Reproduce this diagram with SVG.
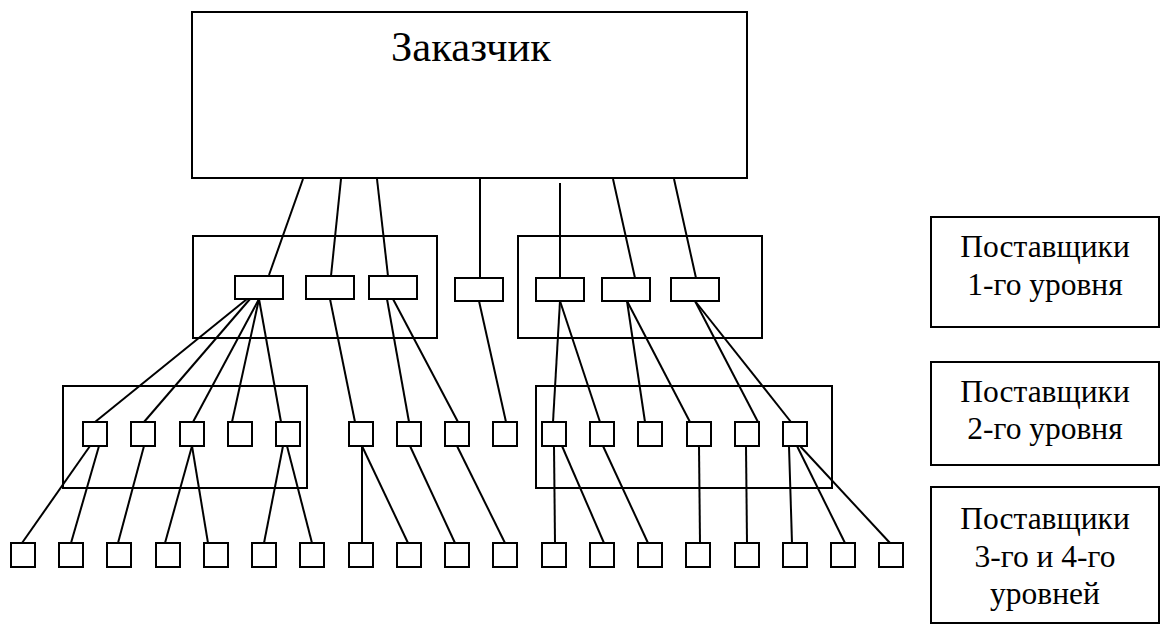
<svg xmlns="http://www.w3.org/2000/svg" width="1162" height="626" viewBox="0 0 1162 626">
  <style>
    .box { fill: none; stroke: #000; stroke-width: 2; }
    .node { fill: #fff; stroke: #000; stroke-width: 2; }
    .link { stroke: #000; stroke-width: 2; fill: none; }
    .title { font-family: "Liberation Serif", "Times New Roman", serif; font-size: 43px; fill: #000; text-anchor: middle; }
    .label { font-family: "Liberation Serif", "Times New Roman", serif; font-size: 31.5px; fill: #000; text-anchor: middle; }
  </style>
  <rect width="1162" height="626" fill="#fff"/>

  <!-- connectors -->
  <g id="connectors" class="link">
    <!-- customer to tier 1 -->
    <line x1="303" y1="179" x2="269" y2="275"/>
    <line x1="341" y1="179" x2="331" y2="276"/>
    <line x1="377" y1="179" x2="388" y2="276"/>
    <line x1="480" y1="179" x2="480" y2="278"/>
    <line x1="560" y1="183" x2="560" y2="278"/>
    <line x1="613" y1="179" x2="635" y2="278"/>
    <line x1="674" y1="179" x2="696" y2="278"/>
    <!-- tier 1 to tier 2 -->
    <line x1="247" y1="299" x2="95" y2="422"/>
    <line x1="250" y1="299" x2="144" y2="422"/>
    <line x1="259" y1="299" x2="193" y2="422"/>
    <line x1="259" y1="299" x2="232" y2="422"/>
    <line x1="259" y1="299" x2="281" y2="422"/>
    <line x1="330" y1="299" x2="355" y2="422"/>
    <line x1="387" y1="299" x2="409" y2="422"/>
    <line x1="393" y1="299" x2="458" y2="422"/>
    <line x1="479" y1="301" x2="506" y2="422"/>
    <line x1="560" y1="301" x2="553" y2="422"/>
    <line x1="560" y1="301" x2="600" y2="422"/>
    <line x1="627" y1="301" x2="645" y2="422"/>
    <line x1="627" y1="301" x2="690" y2="422"/>
    <line x1="695" y1="301" x2="758" y2="422"/>
    <line x1="695" y1="301" x2="791" y2="422"/>
    <!-- tier 2 to tier 3 -->
    <line x1="90" y1="446" x2="22" y2="543"/>
    <line x1="99" y1="446" x2="71" y2="543"/>
    <line x1="144" y1="446" x2="118" y2="543"/>
    <line x1="192" y1="446" x2="165" y2="543"/>
    <line x1="192" y1="446" x2="208" y2="543"/>
    <line x1="283" y1="446" x2="264" y2="543"/>
    <line x1="287" y1="446" x2="312" y2="543"/>
    <line x1="362" y1="446" x2="362" y2="543"/>
    <line x1="362" y1="446" x2="408" y2="543"/>
    <line x1="410" y1="446" x2="455" y2="543"/>
    <line x1="457" y1="446" x2="505" y2="543"/>
    <line x1="554" y1="446" x2="555" y2="543"/>
    <line x1="562" y1="446" x2="604" y2="543"/>
    <line x1="603" y1="446" x2="648" y2="543"/>
    <line x1="699" y1="446" x2="700" y2="543"/>
    <line x1="746" y1="446" x2="747" y2="543"/>
    <line x1="789" y1="446" x2="792" y2="543"/>
    <line x1="797" y1="446" x2="845" y2="543"/>
    <line x1="800" y1="446" x2="890" y2="543"/>
  </g>

  <!-- customer -->
  <g id="customer">
    <rect class="box" x="192" y="12" width="555" height="166"/>
    <text class="title" x="471" y="61" textLength="160" lengthAdjust="spacingAndGlyphs">Заказчик</text>
  </g>

  <!-- tier 1 groups and suppliers -->
  <g id="tier1-group-left"><rect class="box" x="193" y="236" width="244" height="102"/></g>
  <g id="tier1-group-right"><rect class="box" x="518" y="236" width="244" height="102"/></g>
  <g id="t1-a"><rect class="node" x="235" y="276" width="48" height="23"/></g>
  <g id="t1-b"><rect class="node" x="306" y="276" width="48" height="23"/></g>
  <g id="t1-c"><rect class="node" x="369" y="276" width="48" height="23"/></g>
  <g id="t1-d"><rect class="node" x="455" y="278" width="48" height="23"/></g>
  <g id="t1-e"><rect class="node" x="536" y="278" width="48" height="23"/></g>
  <g id="t1-f"><rect class="node" x="602" y="278" width="48" height="23"/></g>
  <g id="t1-g"><rect class="node" x="671" y="278" width="48" height="23"/></g>

  <!-- tier 2 groups and suppliers -->
  <g id="tier2-group-left"><rect class="box" x="63" y="386" width="244" height="102"/></g>
  <g id="tier2-group-right"><rect class="box" x="536" y="386" width="296" height="102"/></g>
  <g id="t2-01"><rect class="node" x="83" y="422" width="24" height="24"/></g>
  <g id="t2-02"><rect class="node" x="131" y="422" width="24" height="24"/></g>
  <g id="t2-03"><rect class="node" x="180" y="422" width="24" height="24"/></g>
  <g id="t2-04"><rect class="node" x="228" y="422" width="24" height="24"/></g>
  <g id="t2-05"><rect class="node" x="276" y="422" width="24" height="24"/></g>
  <g id="t2-06"><rect class="node" x="349" y="422" width="24" height="24"/></g>
  <g id="t2-07"><rect class="node" x="397" y="422" width="24" height="24"/></g>
  <g id="t2-08"><rect class="node" x="445" y="422" width="24" height="24"/></g>
  <g id="t2-09"><rect class="node" x="493" y="422" width="24" height="24"/></g>
  <g id="t2-10"><rect class="node" x="542" y="422" width="24" height="24"/></g>
  <g id="t2-11"><rect class="node" x="590" y="422" width="24" height="24"/></g>
  <g id="t2-12"><rect class="node" x="638" y="422" width="24" height="24"/></g>
  <g id="t2-13"><rect class="node" x="687" y="422" width="24" height="24"/></g>
  <g id="t2-14"><rect class="node" x="735" y="422" width="24" height="24"/></g>
  <g id="t2-15"><rect class="node" x="783" y="422" width="24" height="24"/></g>

  <!-- tier 3 and 4 suppliers -->
  <g id="t3-01"><rect class="node" x="11" y="543" width="24" height="24"/></g>
  <g id="t3-02"><rect class="node" x="59" y="543" width="24" height="24"/></g>
  <g id="t3-03"><rect class="node" x="107" y="543" width="24" height="24"/></g>
  <g id="t3-04"><rect class="node" x="156" y="543" width="24" height="24"/></g>
  <g id="t3-05"><rect class="node" x="204" y="543" width="24" height="24"/></g>
  <g id="t3-06"><rect class="node" x="252" y="543" width="24" height="24"/></g>
  <g id="t3-07"><rect class="node" x="300" y="543" width="24" height="24"/></g>
  <g id="t3-08"><rect class="node" x="349" y="543" width="24" height="24"/></g>
  <g id="t3-09"><rect class="node" x="397" y="543" width="24" height="24"/></g>
  <g id="t3-10"><rect class="node" x="445" y="543" width="24" height="24"/></g>
  <g id="t3-11"><rect class="node" x="493" y="543" width="24" height="24"/></g>
  <g id="t3-12"><rect class="node" x="542" y="543" width="24" height="24"/></g>
  <g id="t3-13"><rect class="node" x="590" y="543" width="24" height="24"/></g>
  <g id="t3-14"><rect class="node" x="638" y="543" width="24" height="24"/></g>
  <g id="t3-15"><rect class="node" x="686" y="543" width="24" height="24"/></g>
  <g id="t3-16"><rect class="node" x="735" y="543" width="24" height="24"/></g>
  <g id="t3-17"><rect class="node" x="783" y="543" width="24" height="24"/></g>
  <g id="t3-18"><rect class="node" x="831" y="543" width="24" height="24"/></g>
  <g id="t3-19"><rect class="node" x="879" y="543" width="24" height="24"/></g>

  <!-- legend boxes -->
  <g id="legend-tier1">
    <rect class="box" x="931" y="217" width="228" height="110"/>
    <text class="label" x="1045" y="257">Поставщики</text>
    <text class="label" x="1045" y="295">1-го уровня</text>
  </g>
  <g id="legend-tier2">
    <rect class="box" x="931" y="362" width="228" height="103"/>
    <text class="label" x="1045" y="402">Поставщики</text>
    <text class="label" x="1045" y="439">2-го уровня</text>
  </g>
  <g id="legend-tier3">
    <rect class="box" x="931" y="487" width="228" height="136"/>
    <text class="label" x="1045" y="529">Поставщики</text>
    <text class="label" x="1045" y="567">3-го и 4-го</text>
    <text class="label" x="1045" y="604">уровней</text>
  </g>
</svg>
